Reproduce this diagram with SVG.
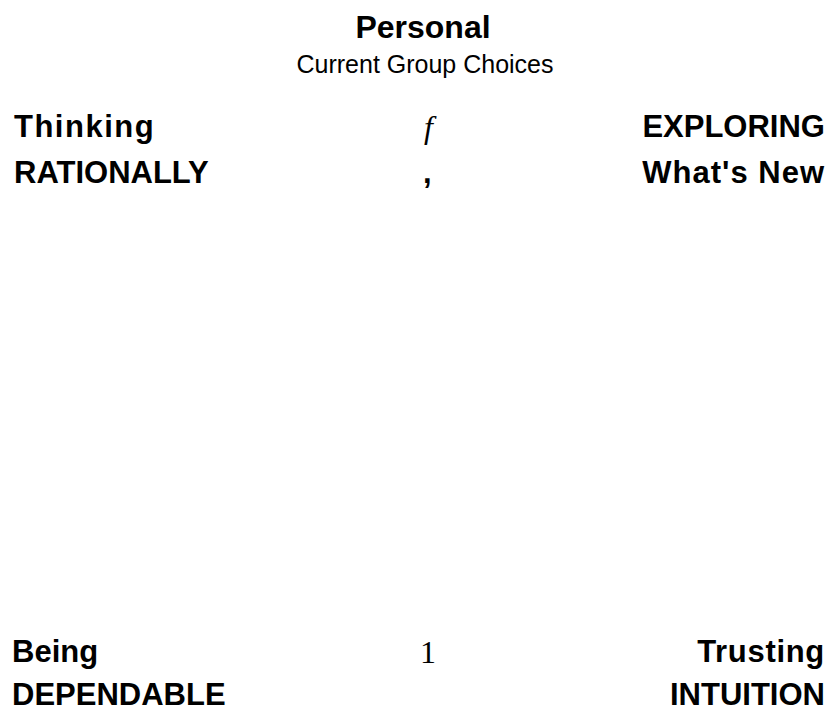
<svg xmlns="http://www.w3.org/2000/svg" width="831" height="712" viewBox="0 0 831 712">
<style>
.b{font-family:"Liberation Sans",Arial,sans-serif;font-weight:bold;font-size:31px;fill:#000}
.s{font-family:"Liberation Serif","Times New Roman",serif;font-size:32px;fill:#000}
.t{font-family:"Liberation Sans",Arial,sans-serif;fill:#000}
</style>
<rect width="831" height="712" fill="#fff"/>
<g id="title">
<text class="t" x="423" y="38" font-size="32" font-weight="bold" text-anchor="middle">Personal</text>
<text class="t" x="425" y="73" font-size="25" text-anchor="middle">Current Group Choices</text>
</g>
<g id="top-left">
<text class="b" x="14" y="137" letter-spacing="1.5">Thinking</text>
<text class="b" x="14" y="183">RATIONALLY</text>
</g>
<g id="top-center">
<text class="s" x="424" y="138" font-style="italic">f</text>
<text class="b" x="423" y="183">,</text>
</g>
<g id="top-right">
<text class="b" x="825" y="137" text-anchor="end">EXPLORING</text>
<text class="b" x="825" y="183" text-anchor="end" letter-spacing="1">What's New</text>
</g>
<g id="bottom-left">
<text class="b" x="12" y="662">Being</text>
<text class="b" x="12" y="705">DEPENDABLE</text>
</g>
<g id="bottom-center">
<text class="s" x="420" y="663">1</text>
</g>
<g id="bottom-right">
<text class="b" x="825" y="662" text-anchor="end" letter-spacing="0.7">Trusting</text>
<text class="b" x="825" y="705" text-anchor="end">INTUITION</text>
</g>
<g id="connectors"></g>
</svg>
